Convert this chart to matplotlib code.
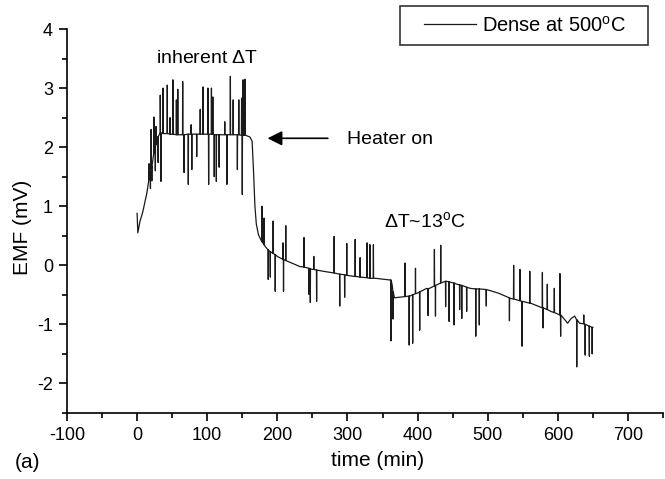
import numpy as np
import matplotlib
matplotlib.use('Agg')
import matplotlib.pyplot as plt
from matplotlib.patches import Rectangle
from matplotlib.ticker import MultipleLocator

plt.rcParams['font.family'] = ['Liberation Sans', 'DejaVu Sans']
plt.rcParams['mathtext.fontset'] = 'custom'
plt.rcParams['mathtext.rm'] = 'Liberation Sans'
plt.rcParams['axes.unicode_minus'] = False

# slow EMF baseline (time in min, EMF in mV)
base_t = [0, 1, 4, 8, 14, 18, 23, 28, 33, 40, 60, 80, 100, 120, 140, 155, 161, 164, 166,
          168, 170, 173, 177, 182, 190, 200, 208, 220, 232, 250, 265, 289, 313, 340, 362,
          364, 367, 375, 389, 400, 413, 425, 441, 448, 456, 475, 498, 515, 532, 561, 590,
          605, 614, 619, 624, 631, 645, 650]
base_emf = [0.88, 0.55, 0.74, 0.90, 1.23, 1.55, 1.84, 2.13, 2.24, 2.23, 2.21, 2.22, 2.22,
            2.21, 2.21, 2.20, 2.17, 2.10, 1.60, 1.00, 0.70, 0.52, 0.42, 0.33, 0.22, 0.15,
            0.10, 0.04, -0.02, -0.07, -0.10, -0.15, -0.19, -0.22, -0.25, -0.35, -0.55,
            -0.54, -0.52, -0.47, -0.39, -0.34, -0.27, -0.29, -0.32, -0.39, -0.41, -0.47,
            -0.56, -0.64, -0.78, -0.85, -0.98, -0.90, -0.86, -0.98, -1.03, -1.05]

# short spikes on the trace: time, local baseline, spike tip
spike_t = [17, 19, 20, 21, 24, 26, 27, 30, 33, 34, 37, 43, 47, 51, 56, 58, 65, 67, 73,
           77, 78, 85, 90, 94, 101, 102, 106, 108, 110, 113, 117, 125, 128, 133, 137,
           143, 145, 149, 150, 151, 154,
           178, 181, 187, 190, 194, 197, 208, 208.8, 212, 238, 245, 247, 252, 256, 281,
           289, 296, 299, 311, 318, 328, 332, 337, 362, 365,
           382, 388, 393, 397, 403, 415, 424, 425.5, 433, 440, 445, 452, 460, 463, 470,
           483, 488, 498, 531, 537, 546, 549, 560, 578, 579, 585, 595, 603, 604, 627,
           637, 639, 645, 649]
spike_base = [1.45, 1.58, 1.62, 1.68, 1.90, 2.00, 2.05, 2.18, 2.24, 2.24, 2.23, 2.23,
              2.22, 2.22, 2.21, 2.21, 2.21, 2.21, 2.22, 2.22, 2.22, 2.22, 2.22, 2.22,
              2.22, 2.22, 2.22, 2.22, 2.21, 2.21, 2.21, 2.21, 2.21, 2.21, 2.21, 2.21,
              2.21, 2.20, 2.20, 2.20, 2.20,
              0.40, 0.35, 0.26, 0.23, 0.20, 0.18, 0.10, 0.10, 0.08, -0.03, -0.05, -0.06,
              -0.07, -0.08, -0.13, -0.15, -0.16, -0.17, -0.19, -0.20, -0.21, -0.22, -0.22,
              -0.25, -0.45,
              -0.53, -0.52, -0.50, -0.48, -0.45, -0.40, -0.35, -0.34, -0.30, -0.27, -0.28,
              -0.30, -0.33, -0.34, -0.37, -0.40, -0.40, -0.41, -0.55, -0.57, -0.60, -0.61,
              -0.64, -0.72, -0.72, -0.75, -0.80, -0.84, -0.84, -0.92, -0.99, -1.00, -1.03,
              -1.05]
spike_tip = [1.72, 1.30, 2.30, 1.43, 2.51, 1.60, 2.35, 1.74, 2.88, 1.42, 3.00, 3.05,
             2.50, 3.14, 2.80, 2.98, 3.11, 1.57, 1.37, 2.38, 1.62, 1.84, 2.64, 3.02, 3.00,
             1.37, 3.00, 2.85, 1.50, 1.42, 1.66, 2.43, 1.37, 3.20, 2.80, 1.62, 2.80, 2.83,
             1.20, 3.14, 3.15,
             1.00, 0.80, -0.24, -0.20, 0.75, -0.44, 0.38, -0.44, 0.67, 0.47, -0.49, -0.63,
             0.15, -0.61, 0.49, -0.69, -0.54, 0.37, 0.44, 0.13, 0.38, 0.35, 0.35, -1.28,
             -0.91,
             0.04, -1.35, -1.32, -0.05, -1.10, -0.85, 0.27, -0.86, 0.34, -0.70, -0.95,
             -1.01, -0.75, -0.90, -0.78, -1.20, -1.01, -0.69, -0.94, 0.00, -0.07, -1.37,
             -0.10, -0.12, -1.06, -0.32, -0.39, -0.14, -1.20, -1.72, -0.84, -1.52, -1.54,
             -1.50]

pts = list(zip(base_t, base_emf))
for t, b, p in zip(spike_t, spike_base, spike_tip):
    pts += [(t - 0.25, b), (t, p), (t + 0.25, b)]
pts.sort()
time = [p[0] for p in pts]
emf = [p[1] for p in pts]

fig = plt.figure(figsize=(6.65, 4.79), dpi=100)
ax = fig.add_axes([67 / 665, 1 - 413 / 479, 596 / 665, 384 / 479])

ax.plot(time, emf, color='#1a1a1a', lw=0.9)

ax.set_xlim(-100, 750)
ax.set_ylim(-2.5, 4)
ax.xaxis.set_major_locator(MultipleLocator(100))
ax.xaxis.set_minor_locator(MultipleLocator(50))
ax.yaxis.set_major_locator(MultipleLocator(1))
ax.yaxis.set_minor_locator(MultipleLocator(0.5))
ax.tick_params(which='both', direction='out', width=1.2, labelsize=13, pad=4)
ax.tick_params(which='major', length=6)
ax.tick_params(which='minor', length=3.5)
for s in ['top', 'right']:
    ax.spines[s].set_visible(False)
for s in ['left', 'bottom']:
    ax.spines[s].set_linewidth(1.2)

fig.text(378 / 665, 1 - 460 / 479, 'time (min)', fontsize=15, ha='center', va='center')
fig.text(23 / 665, 1 - 227 / 479, 'EMF (mV)', fontsize=15, ha='center', va='center',
         rotation=90)
fig.text(15 / 665, 1 - 463 / 479, '(a)', fontsize=15, ha='left', va='center')

ax.text(100, 3.5, r'inherent $\Delta$T', fontsize=14, ha='center', va='center')
ax.annotate('', xy=(182, 2.15), xytext=(276, 2.15),
            arrowprops=dict(arrowstyle='-|>', color='black', lw=1.2, mutation_scale=22))
ax.text(300, 2.13, 'Heater on', fontsize=14, ha='left', va='center')
ax.text(352, 0.74, r'$\Delta$T~13$^{\mathrm{o}}$C', fontsize=14, ha='left', va='center')

# legend: frame drawn separately so the padding matches
ax.plot([], [], color='#1a1a1a', lw=0.9, label=r'Dense at 500$^{\mathrm{o}}$C')
leg = ax.legend(loc='center left', bbox_to_anchor=(424 / 665, 1 - 25.5 / 479),
                bbox_transform=fig.transFigure, borderaxespad=0, borderpad=0,
                fontsize=14.5, frameon=False, handlelength=2.6, handletextpad=0.3)
fig.patches.append(Rectangle((400 / 665, 1 - 45 / 479), 248 / 665, 39 / 479,
                             transform=fig.transFigure, fill=False,
                             edgecolor='#333333', lw=1.2))

fig.savefig('out.png', dpi=100)
